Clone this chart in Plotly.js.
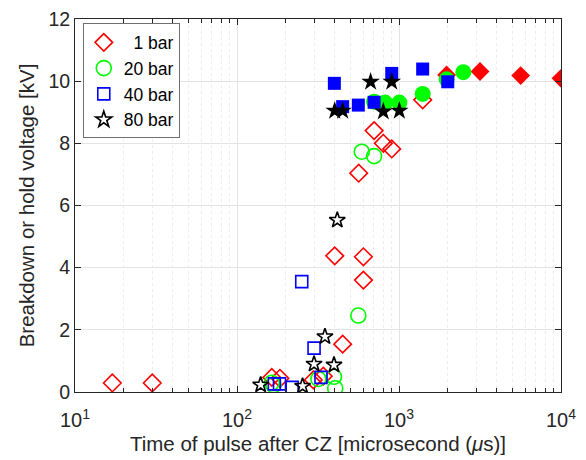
<!DOCTYPE html>
<html>
<head>
<meta charset="utf-8">
<script src="https://cdn.plot.ly/plotly-3.0.1.min.js"></script>
<style>
  html, body { margin: 0; padding: 0; background: #fff; }
  #chart { width: 586px; height: 460px; }
</style>
</head>
<body>
<div id="chart"></div>
<script>
// Breakdown / hold voltage vs. pulse delay after the current zero (CZ).
// Open markers: breakdown; filled markers: voltage held.

// 1 bar
const bar1OpenT = [17, 30, 164, 184, 296, 341, 401, 449, 564, 603, 603, 702, 800, 902, 1400];
const bar1OpenV = [0.29, 0.29, 0.47, 0.44, 0.39, 0.51, 4.38, 1.54, 7.04, 4.35, 3.60, 8.41, 8.00, 7.82, 9.40];
const bar1HoldT = [1968, 3162, 5636, 10000];
const bar1HoldV = [10.20, 10.31, 10.18, 10.09];

// 20 bar
const bar20OpenT = [164, 168, 318, 397, 404, 561, 589, 702];
const bar20OpenV = [0.30, 0.22, 0.42, 0.49, 0.12, 2.46, 7.73, 7.59];
const bar20HoldT = [702, 820, 1005, 1400, 1968, 2495];
const bar20HoldV = [9.34, 9.31, 9.31, 9.59, 10.06, 10.29];

// 40 bar
const bar40OpenT = [170, 183, 219, 251, 299, 330];
const bar40OpenV = [0.26, 0.26, 0.15, 3.55, 1.41, 0.47];
const bar40HoldT = [399, 449, 561, 702, 902, 1400, 2000];
const bar40HoldV = [9.93, 9.18, 9.23, 9.32, 10.25, 10.39, 9.98];

// 80 bar
const bar80OpenT = [140, 254, 299, 349, 397, 416];
const bar80OpenV = [0.23, 0.19, 0.90, 1.78, 0.87, 5.53];
const bar80HoldT = [401, 449, 668, 800, 902, 1005];
const bar80HoldV = [9.05, 9.05, 9.98, 9.02, 9.98, 9.05];

const seriesNames = ['\u00a0\u00a01 bar', '20 bar', '40 bar', '80 bar'];
const xTickVals = [10, 100, 1000, 10000];
const xTickText = ['10<sup>1</sup>', '10<sup>2</sup>', '10<sup>3</sup>', '10<sup>4</sup>'];
const yTickVals = [0, 2, 4, 6, 8, 10, 12];

function pts(t, v, name, symbol, color, size, filled, legend) {
  return {
    type: 'scatter', mode: 'markers', x: t, y: v, name: name,
    showlegend: legend, hoverinfo: 'x+y',
    marker: {
      symbol: symbol, size: size,
      color: filled ? color : 'rgba(0,0,0,0)',
      line: { color: color, width: filled ? 0 : 1.6 }
    }
  };
}

const traces = [
  pts(bar1OpenT, bar1OpenV, seriesNames[0], 'diamond', '#ff0000', 13.5, false, true),
  pts(bar1HoldT, bar1HoldV, seriesNames[0], 'diamond', '#ff0000', 14.5, true, false),
  pts(bar20OpenT, bar20OpenV, seriesNames[1], 'circle', '#00ff00', 15, false, true),
  pts(bar20HoldT, bar20HoldV, seriesNames[1], 'circle', '#00ff00', 16, true, false),
  pts(bar40OpenT, bar40OpenV, seriesNames[2], 'square', '#0000ff', 12, false, true),
  pts(bar40HoldT, bar40HoldV, seriesNames[2], 'square', '#0000ff', 13, true, false),
  pts(bar80OpenT, bar80OpenV, seriesNames[3], 'star', '#000000', 12, false, true),
  pts(bar80HoldT, bar80HoldV, seriesNames[3], 'star', '#000000', 14, true, false)
];

const axisColor = '#262626';
const layout = {
  width: 586, height: 460,
  margin: { l: 75, r: 25, t: 19, b: 68 },
  paper_bgcolor: '#ffffff', plot_bgcolor: '#ffffff',
  font: { family: 'Liberation Sans, Arial, sans-serif', color: axisColor, size: 18 },
  showlegend: true,
  legend: {
    x: 0.016, y: 0.988, xanchor: 'left', yanchor: 'top',
    bgcolor: '#ffffff', bordercolor: '#6f6f6f', borderwidth: 1,
    font: { size: 17.5, color: '#000000' },
    itemwidth: 30, tracegroupgap: 0,
    itemsizing: 'trace'
  },
  xaxis: {
    type: 'log', range: [1, 4],
    tickvals: xTickVals, ticktext: xTickText,
    tickfont: { size: 20 }, ticklabelstandoff: 10,
    ticks: 'inside', ticklen: 6, tickcolor: axisColor,
    showline: true, linecolor: axisColor, linewidth: 1, mirror: 'ticks',
    showgrid: true, gridcolor: '#e3e3e3', gridwidth: 1,
    minor: { ticks: 'inside', ticklen: 4, tickcolor: axisColor, showgrid: true, gridcolor: '#ededed', griddash: 'dot', dtick: 'D1' },
    zeroline: false,
    title: { text: 'Time of pulse after CZ [microsecond (<i>\u03bc</i>s)]', font: { size: 20.5 }, standoff: 6 }
  },
  yaxis: {
    range: [0, 12], tickvals: yTickVals,
    tickfont: { size: 19.5 },
    ticks: 'inside', ticklen: 6, tickcolor: axisColor,
    showline: true, linecolor: axisColor, linewidth: 1, mirror: 'ticks',
    showgrid: true, gridcolor: '#e3e3e3', gridwidth: 1,
    zeroline: false,
    title: { text: 'Breakdown or hold voltage [kV]', font: { size: 20.5 }, standoff: 8 }
  }
};

Plotly.newPlot('chart', traces, layout, { staticPlot: true, displayModeBar: false });
</script>
</body>
</html>
